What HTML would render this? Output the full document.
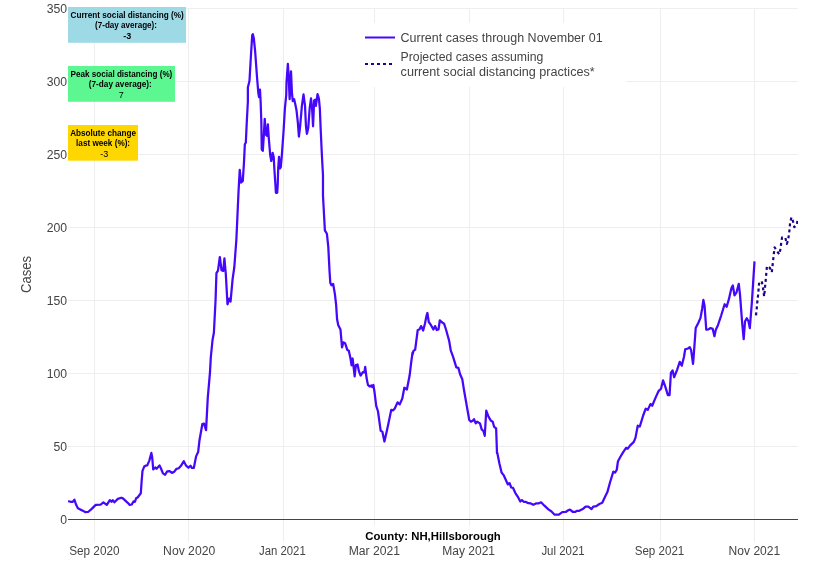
<!DOCTYPE html>
<html><head><meta charset="utf-8"><title>Cases - County: NH,Hillsborough</title>
<style>
html,body{margin:0;padding:0;background:#fff;}
body{width:823px;height:588px;overflow:hidden;}
svg{display:block;}
text{font-family:"Liberation Sans",sans-serif;fill:#444;}
.t12{font-size:12px;}
.b8{font-size:9px;font-weight:bold;fill:#000;}
.r8{font-size:9px;fill:#000;}
</style></head><body>
<svg width="823" height="588" viewBox="0 0 823 588">
<rect x="0" y="0" width="823" height="588" fill="#fff"/>
<g shape-rendering="crispEdges" stroke="#eee" stroke-width="1" fill="none">
<line x1="94.5" y1="8" x2="94.5" y2="541.5"/>
<line x1="188.5" y1="8" x2="188.5" y2="541.5"/>
<line x1="283.5" y1="8" x2="283.5" y2="541.5"/>
<line x1="374.5" y1="8" x2="374.5" y2="541.5"/>
<line x1="469.5" y1="8" x2="469.5" y2="541.5"/>
<line x1="563.5" y1="8" x2="563.5" y2="541.5"/>
<line x1="660.5" y1="8" x2="660.5" y2="541.5"/>
<line x1="754.5" y1="8" x2="754.5" y2="541.5"/>
<line x1="68" y1="446.5" x2="798" y2="446.5"/>
<line x1="68" y1="373.5" x2="798" y2="373.5"/>
<line x1="68" y1="300.5" x2="798" y2="300.5"/>
<line x1="68" y1="227.5" x2="798" y2="227.5"/>
<line x1="68" y1="154.5" x2="798" y2="154.5"/>
<line x1="68" y1="81.5" x2="798" y2="81.5"/>
<line x1="68" y1="8.5" x2="798" y2="8.5"/>
</g>
<line x1="68" y1="519.5" x2="798" y2="519.5" stroke="#444" stroke-width="1" shape-rendering="crispEdges"/>
<clipPath id="clip"><rect x="68" y="8" width="730" height="533.5"/></clipPath>
<g clip-path="url(#clip)" fill="none" stroke-linejoin="round">
<path d="M68.17,501.11L70.55,501.79L72.76,501.79L74.46,499.74L76.16,504.85L77.86,508.25L80.41,509.61L82.96,510.80L85.52,512.16L88.07,511.99L91.47,509.10L95.72,504.85L100.83,504.51L103.38,502.30L106.78,504.85L109.84,500.09L111.54,501.79L112.73,500.26L114.43,502.30L117.84,498.89L121.24,497.70L122.94,498.38L127.19,502.30L129.74,504.85L131.79,504.51L133.49,501.45L134.85,501.79L136.21,498.04L137.40,497.70L140.80,493.28L141.65,481.03L142.50,470.83L144.20,466.57L145.57,465.72L147.27,465.38L149.31,460.62L151.35,452.96L152.20,457.22L153.22,469.47L155.26,467.42L156.62,468.78L159.51,465.38L160.87,468.27L162.92,473.38L165.13,474.74L167.17,471.34L169.72,471.17L171.93,472.87L174.31,471.68L176.52,468.78L178.74,468.27L180.78,466.06L183.84,461.13L185.88,465.38L188.43,467.76L190.47,465.72L191.83,467.76L193.88,467.76L196.09,456.37L198.13,452.11L199.49,440.21L202.32,424.20L204.02,423.69L206.06,430.16L207.76,397.84L209.98,372.32L210.83,357.01L212.53,340.00L213.89,332.71L215.59,299.54L216.44,273.17L217.97,270.62L219.84,257.01L221.54,270.28L223.24,270.96L224.43,258.37L225.80,274.02L227.50,304.30L229.20,298.69L230.56,301.58L232.60,279.13L234.30,267.22L236.34,240.00L237.19,221.65L238.55,191.03L239.74,169.77L241.11,182.53L242.81,180.83L244.00,162.11L244.85,144.25L245.82,142.63L246.77,122.22L247.86,101.80L247.86,87.60L249.50,80.80L251.13,52.22L252.22,35.21L252.90,34.25L253.85,38.61L255.21,52.22L256.98,76.71L258.34,93.04L259.02,97.13L259.97,89.64L260.65,101.80L261.34,122.22L261.74,149.43L262.83,150.80L263.78,135.83L264.74,118.82L265.83,134.47L266.91,135.83L267.87,124.26L268.82,138.55L270.18,154.88L271.27,161.00L272.63,152.84L273.72,156.92L274.30,168.00L275.50,186.00L275.90,192.80L277.20,192.80L277.70,185.00L278.20,168.00L279.03,156.92L279.84,168.49L280.80,167.13L281.88,154.88L283.52,131.74L284.88,108.61L286.24,95.00L286.51,82.16L287.87,63.78L288.69,76.71L289.64,99.17L291.00,71.27L291.96,93.04L292.77,101.21L294.13,99.17L295.09,103.17L296.45,109.97L297.81,122.22L298.90,136.51L300.12,126.30L301.89,105.89L303.52,94.40L305.02,105.89L305.97,126.30L306.92,133.78L308.29,127.66L309.65,108.61L311.01,98.40L312.10,108.61L313.05,126.30L314.14,100.44L315.23,99.76L315.91,105.89L317.54,94.13L318.90,98.49L319.85,108.61L320.67,129.02L321.62,149.43L322.30,163.04L322.98,175.02L322.98,195.52L324.87,230.39L326.91,233.79L328.27,246.55L329.47,270.02L329.47,270.00L330.28,282.76L331.47,285.31L333.17,283.95L334.87,293.82L336.06,304.02L337.08,319.33L338.27,325.29L340.49,329.54L342.02,347.40L343.38,342.30L345.08,343.15L347.29,349.95L348.82,350.80L350.52,358.46L351.54,365.26L352.62,358.51L354.67,376.37L355.86,364.97L357.56,364.46L358.92,371.26L360.62,375.52L362.83,372.11L364.36,372.45L365.21,366.84L366.57,378.07L367.93,384.87L369.64,386.57L371.34,385.38L372.19,387.08L373.38,384.87L374.57,392.53L376.27,406.14L377.97,411.24L380.69,430.80L382.39,431.65L384.43,441.52L386.65,431.65L388.69,422.30L391.24,409.88L392.94,410.39L394.64,408.69L397.53,402.39L399.74,404.43L402.30,398.48L404.34,387.76L406.89,389.47L409.61,375.52L411.14,362.76L412.50,352.55L412.50,354.64L413.48,350.90L415.18,349.54L417.73,329.98L419.43,329.47L421.13,326.06L423.17,330.49L424.87,324.02L426.57,315.52L427.42,312.96L428.78,321.98L430.83,324.87L433.38,329.47L435.08,326.06L436.78,329.98L438.48,329.47L439.84,320.28L441.88,322.32L444.09,323.68L446.14,329.98L449.20,341.03L450.73,350.39L452.94,356.34L456.34,367.40L458.38,367.91L460.09,374.20L462.30,379.31L464.00,390.02L465.52,398.71L469.26,419.98L470.96,421.68L472.66,420.83L474.02,419.13L475.72,423.38L477.08,421.68L479.98,423.38L481.68,429.33L483.38,431.03L484.74,435.80L486.27,410.62L488.48,416.57L491.03,420.83L492.73,421.68L494.09,426.78L496.14,428.48L496.99,453.15L497.14,452.11L499.36,463.17L501.57,472.53L503.61,475.08L507.86,484.43L509.56,483.07L511.26,487.50L512.96,487.84L515.52,493.28L518.07,497.19L520.28,501.45L521.98,500.09L523.68,501.79L526.06,501.96L528.27,503.15L530.83,503.49L533.38,504.85L535.93,503.49L538.48,503.49L541.03,502.30L544.43,505.70L548.69,509.61L551.24,511.31L554.64,514.71L558.89,514.71L562.30,512.16L565.70,511.99L568.25,510.29L569.95,509.61L573.01,511.99L575.05,511.99L577.10,510.80L579.31,510.80L582.71,509.10L585.60,506.55L588.32,506.55L591.56,509.10L593.26,506.55L596.32,506.21L599.38,504.00L602.27,502.81L604.82,497.19L607.38,492.09L609.93,482.73L613.33,471.68L615.03,472.53L616.73,469.98L617.92,461.47L620.13,457.22L623.20,452.11L626.09,447.86L627.79,448.71L630.00,445.65L633.82,441.86L635.52,437.61L637.73,425.70L639.77,426.55L643.17,415.49L645.72,408.69L647.76,409.88L650.49,404.09L652.19,405.80L655.59,397.63L658.48,391.17L661.03,388.78L663.07,380.28L665.29,386.57L667.84,395.08L669.54,395.08L670.90,372.96L672.60,370.41L674.13,377.22L677.19,369.56L679.74,361.91L681.79,365.65L684.00,356.80L685.18,349.31L688.07,348.46L689.77,347.10L691.13,350.16L693.01,363.95L693.51,358.66L695.72,328.04L698.27,322.94L700.49,317.84L702.19,308.48L703.38,299.98L704.57,305.93L706.27,329.74L708.48,329.40L710.52,328.04L712.73,328.89L714.43,336.21L715.80,329.74L717.84,325.49L721.24,315.29L724.64,304.23L726.68,306.78L728.89,299.13L731.45,288.07L732.81,285.52L734.51,295.38L736.55,292.32L738.76,283.82L739.95,294.02L742.16,322.94L743.69,339.10L745.05,321.24L746.76,318.18L748.46,321.24L749.82,328.04L751.86,302.53L754.50,261.40" stroke="#4608fa" stroke-width="2.25"/>
<path d="M756.00,315.41L756.84,307.45L757.31,301.84L757.96,296.23L758.52,290.15L758.99,283.83L761.71,281.02L762.92,287.10L764.14,296.46L764.79,290.38L765.26,284.30L765.92,278.21L766.38,272.13L766.95,266.05L769.94,267.92L771.81,272.13L772.56,265.40L773.21,259.50L773.87,253.42L774.62,247.34L776.96,251.08L779.30,254.36L780.42,249.12L781.17,243.22L782.10,237.42L785.38,237.89L786.78,243.97L787.90,240.89L788.84,235.37L789.59,229.19L790.05,223.20L791.46,217.31L792.86,220.58L794.26,227.13L796.88,224.79L797.54,219.65" stroke="#20008a" stroke-width="2.2" stroke-dasharray="3,3"/>
</g>
<rect x="68" y="7" width="118" height="35.8" fill="#9edae5"/>
<text class="b8" x="127.1" y="17.7" text-anchor="middle" textLength="113.2" lengthAdjust="spacingAndGlyphs">Current social distancing (%)</text>
<text class="b8" x="126" y="27.6" text-anchor="middle" textLength="62" lengthAdjust="spacingAndGlyphs">(7-day average):</text>
<text class="b8" x="127.2" y="38.95" text-anchor="middle">-3</text>
<rect x="68" y="66" width="107" height="35.8" fill="#5cf791"/>
<text class="b8" x="121.4" y="76.7" text-anchor="middle" textLength="101.8" lengthAdjust="spacingAndGlyphs">Peak social distancing (%)</text>
<text class="b8" x="120.3" y="86.6" text-anchor="middle" textLength="63" lengthAdjust="spacingAndGlyphs">(7-day average):</text>
<text class="r8" x="121.3" y="97.95" text-anchor="middle">7</text>
<rect x="68" y="125" width="70" height="35.7" fill="#ffd700"/>
<text class="b8" x="103.1" y="135.7" text-anchor="middle" textLength="65.8" lengthAdjust="spacingAndGlyphs">Absolute change</text>
<text class="b8" x="103.1" y="145.6" text-anchor="middle" textLength="54" lengthAdjust="spacingAndGlyphs">last week (%):</text>
<text class="r8" x="104.2" y="156.9" text-anchor="middle">-3</text>
<rect x="360" y="23" width="266" height="64" fill="#fff"/>
<line x1="365" y1="37.5" x2="395" y2="37.5" stroke="#4608fa" stroke-width="2"/>
<line x1="365" y1="64" x2="395" y2="64" stroke="#20008a" stroke-width="2" stroke-dasharray="3,3"/>
<text class="t12" x="400.6" y="42" textLength="202" lengthAdjust="spacingAndGlyphs">Current cases through November 01</text>
<text class="t12" x="400.6" y="60.8" textLength="142.8" lengthAdjust="spacingAndGlyphs">Projected cases assuming</text>
<text class="t12" x="400.6" y="76.4" textLength="194.1" lengthAdjust="spacingAndGlyphs">current social distancing practices*</text>
<text class="t12" x="60.3" y="523.7" textLength="6.8" lengthAdjust="spacingAndGlyphs">0</text>
<text class="t12" x="53.5" y="450.7" textLength="13.6" lengthAdjust="spacingAndGlyphs">50</text>
<text class="t12" x="46.7" y="377.7" textLength="20.4" lengthAdjust="spacingAndGlyphs">100</text>
<text class="t12" x="46.7" y="304.7" textLength="20.4" lengthAdjust="spacingAndGlyphs">150</text>
<text class="t12" x="46.7" y="231.7" textLength="20.4" lengthAdjust="spacingAndGlyphs">200</text>
<text class="t12" x="46.7" y="158.7" textLength="20.4" lengthAdjust="spacingAndGlyphs">250</text>
<text class="t12" x="46.7" y="85.7" textLength="20.4" lengthAdjust="spacingAndGlyphs">300</text>
<text class="t12" x="46.7" y="12.7" textLength="20.4" lengthAdjust="spacingAndGlyphs">350</text>
<text class="t12" x="69.2" y="554.7" textLength="50.3" lengthAdjust="spacingAndGlyphs">Sep 2020</text>
<text class="t12" x="163.1" y="554.7" textLength="52.1" lengthAdjust="spacingAndGlyphs">Nov 2020</text>
<text class="t12" x="259.0" y="554.7" textLength="46.7" lengthAdjust="spacingAndGlyphs">Jan 2021</text>
<text class="t12" x="348.7" y="554.7" textLength="51.4" lengthAdjust="spacingAndGlyphs">Mar 2021</text>
<text class="t12" x="442.3" y="554.7" textLength="52.7" lengthAdjust="spacingAndGlyphs">May 2021</text>
<text class="t12" x="541.4" y="554.7" textLength="43.3" lengthAdjust="spacingAndGlyphs">Jul 2021</text>
<text class="t12" x="634.7" y="554.7" textLength="49.6" lengthAdjust="spacingAndGlyphs">Sep 2021</text>
<text class="t12" x="728.6" y="554.7" textLength="51.6" lengthAdjust="spacingAndGlyphs">Nov 2021</text>
<text x="0" y="0" transform="translate(30.5,274.4) rotate(-90)" text-anchor="middle" style="font-size:14px" textLength="37" lengthAdjust="spacingAndGlyphs">Cases</text>
<rect x="363" y="526" width="140" height="20" fill="#fff"/>
<text x="365.2" y="539.5" style="font-size:11px;font-weight:bold;fill:#000" textLength="135.6" lengthAdjust="spacingAndGlyphs">County: NH,Hillsborough</text>
</svg></body></html>
